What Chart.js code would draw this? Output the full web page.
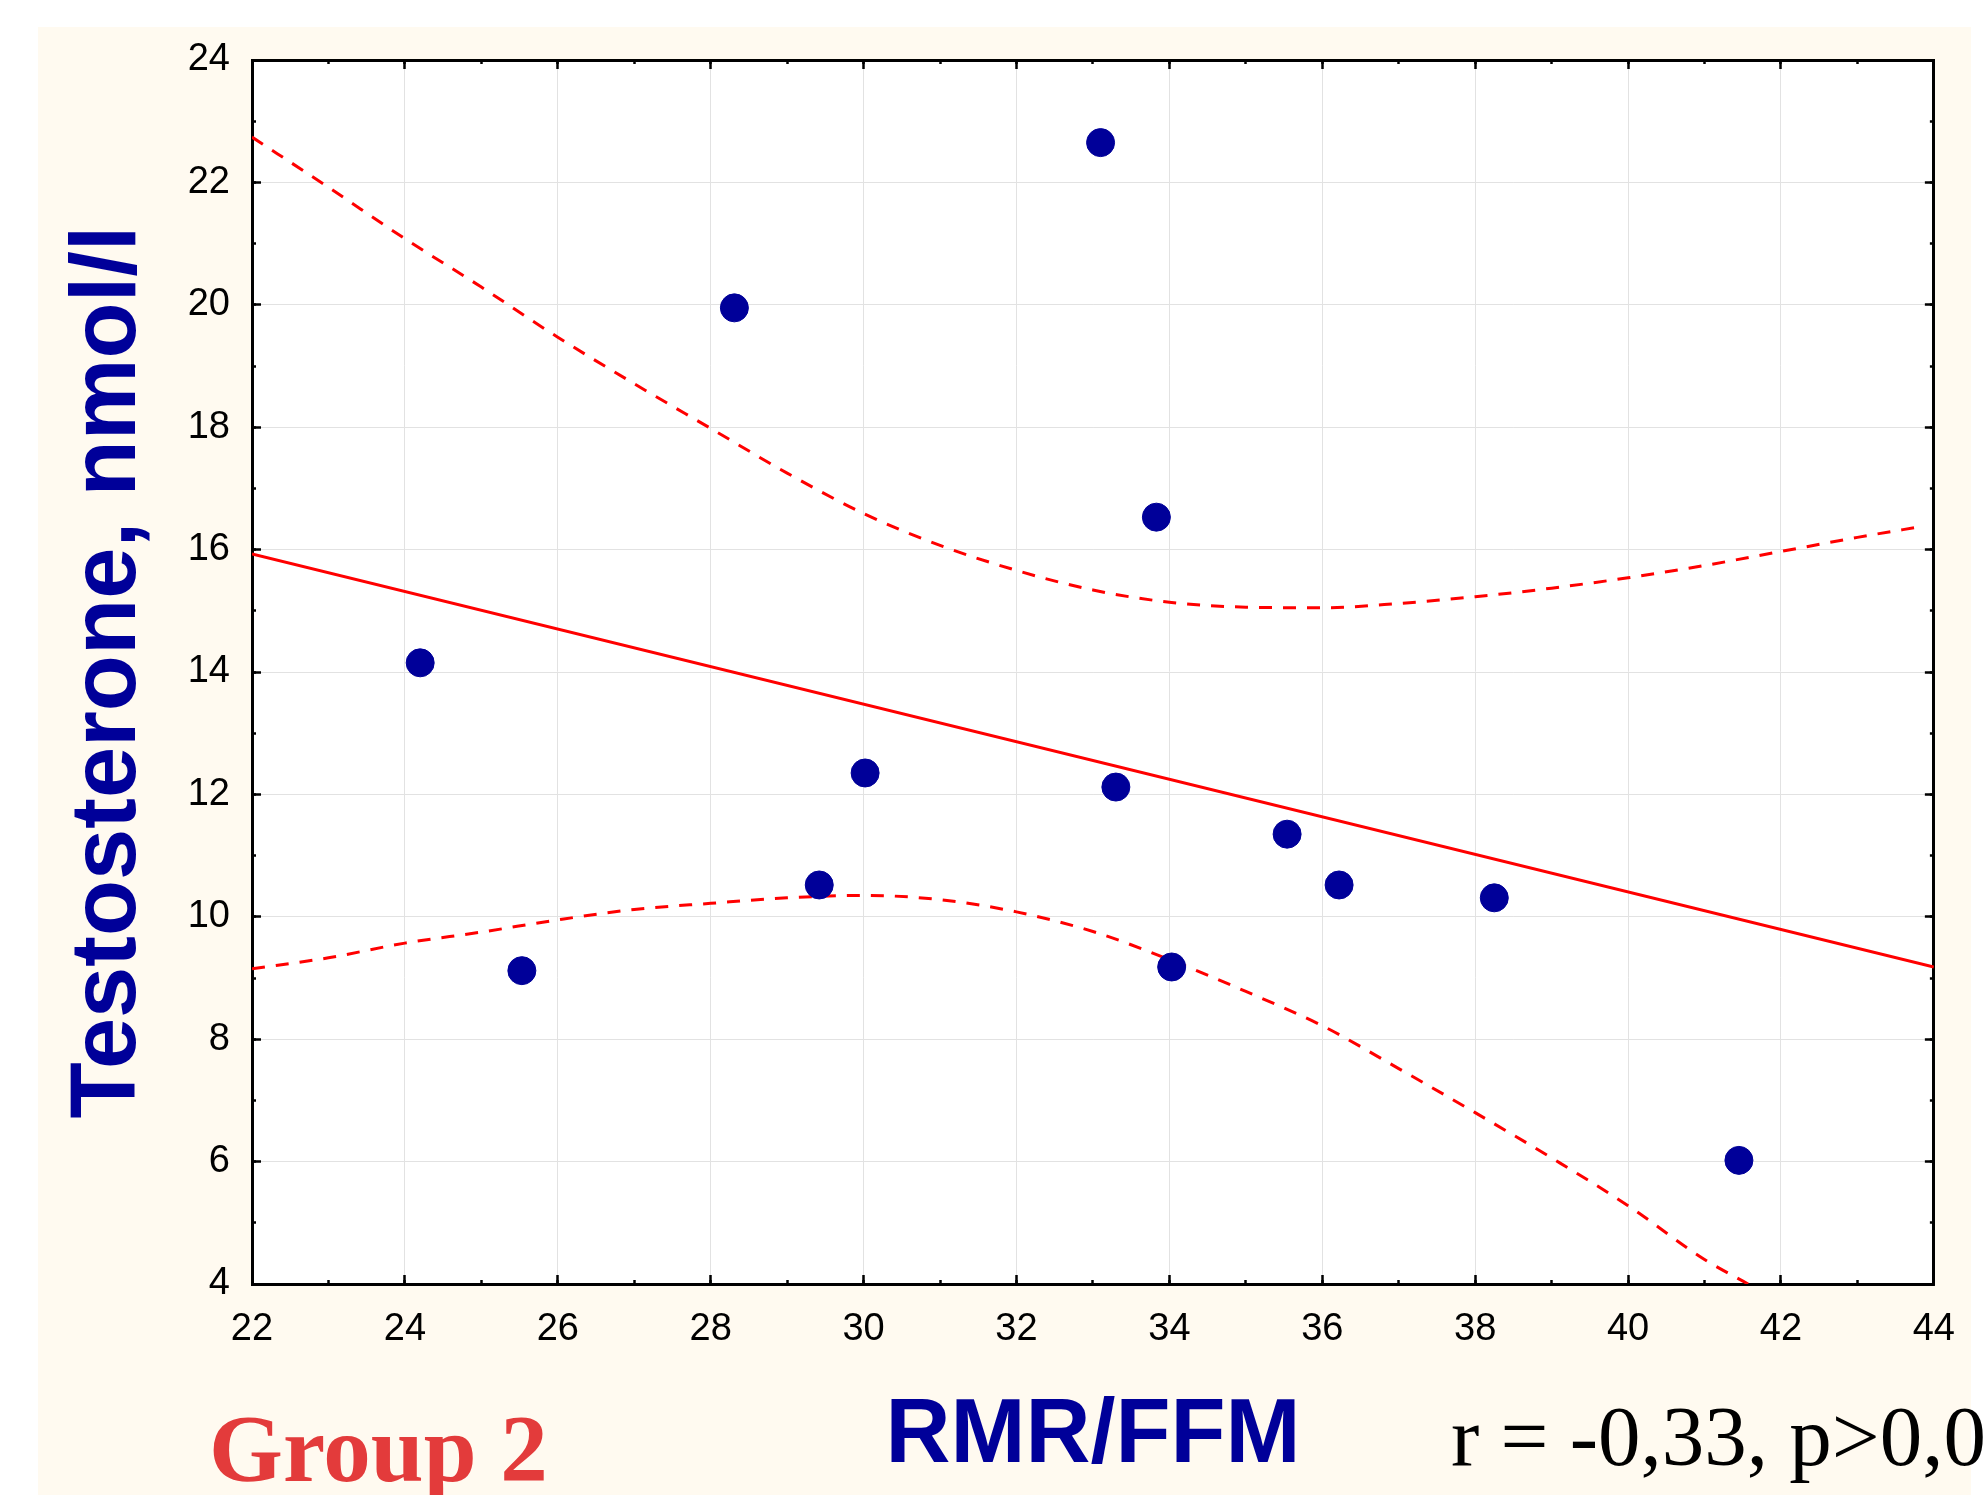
<!DOCTYPE html>
<html>
<head>
<meta charset="utf-8">
<title>Testosterone vs RMR/FFM – Group 2</title>
<script src="https://cdn.jsdelivr.net/npm/chart.js@4.4.1/dist/chart.umd.min.js"></script>
<style>
  html, body { margin: 0; padding: 0; background: #ffffff; overflow: hidden; }
  canvas { display: block; }
</style>
</head>
<body>
<canvas id="chart" width="1987" height="1495"></canvas>
<script>
// ---------------- data ----------------
const xTicks = [22, 24, 26, 28, 30, 32, 34, 36, 38, 40, 42, 44];
const yTicks = [4, 6, 8, 10, 12, 14, 16, 18, 20, 22, 24];

const pointX = [24.2, 25.53, 28.31, 29.42, 30.02, 33.1, 33.3, 33.83, 34.03, 35.54, 36.22, 38.25, 41.45];
const pointY = [14.15, 9.12, 19.95, 10.52, 12.35, 22.65, 12.12, 16.53, 9.18, 11.35, 10.52, 10.31, 6.02];

const fitX = [22, 44];
const fitY = [15.93, 9.18];

const upperX = [22, 23, 24, 25, 26, 27, 28, 29, 30, 31, 32, 33, 34, 35, 36, 37, 38, 39, 40, 41, 42, 43, 43.85];
const upperY = [22.74, 21.92, 21.08, 20.29, 19.47, 18.71, 17.98, 17.25, 16.59, 16.07, 15.66, 15.34, 15.14, 15.06, 15.05, 15.12, 15.23, 15.37, 15.54, 15.74, 15.97, 16.2, 16.38];

const lowerX = [22, 23, 24, 25, 26, 27, 28, 29, 30, 31, 32, 33, 34, 35, 36, 37, 38, 39, 40, 41, 41.57];
const lowerY = [9.15, 9.33, 9.57, 9.75, 9.95, 10.12, 10.22, 10.31, 10.35, 10.28, 10.08, 9.76, 9.3, 8.78, 8.22, 7.52, 6.8, 6.06, 5.28, 4.4, 4.0];

const xAxisTitle = 'RMR/FFM';
const yAxisTitle = 'Testosterone, nmol/l';
const groupLabel = 'Group 2';
const statsLabel = 'r = -0,33, p>0,05';

// ---------------- helpers ----------------
const toXY = (xs, ys) => xs.map((x, i) => ({ x: x, y: ys[i] }));
const SANS = '"Liberation Sans", Arial, sans-serif';
const SERIF = '"Liberation Serif", "Times New Roman", serif';
const NAVY = '#000099';
const CLEAR = 'rgba(0,0,0,0)';

function majorTicks(list) {
  return function (scale) { scale.ticks = list.map(v => ({ value: v })); };
}

function markScale(axis, position, weight, fitSize, list, tickLen, showBorder) {
  const s = {
    type: 'linear',
    axis: axis,
    position: position,
    weight: weight,
    min: axis === 'x' ? 22 : 4,
    max: axis === 'x' ? 44 : 24,
    ticks: { display: false },
    grid: { color: CLEAR, drawTicks: true, tickLength: tickLen, tickColor: '#000000', tickWidth: 2.5 },
    border: { display: showBorder, color: '#000000', width: 3 },
    afterFit: function (scale) {
      if (axis === 'x') { scale.height = fitSize; } else { scale.width = fitSize; }
    }
  };
  if (list) {
    s.afterBuildTicks = majorTicks(list);
  } else {
    s.ticks.stepSize = 1;
  }
  return s;
}

// background: white page, cream panel, white plot area
const backgroundPlugin = {
  id: 'panelBackground',
  beforeDraw(chart) {
    const { ctx, chartArea: a } = chart;
    ctx.save();
    ctx.fillStyle = '#ffffff';
    ctx.fillRect(0, 0, chart.width, chart.height);
    ctx.fillStyle = '#fffaf0';
    ctx.fillRect(38, 27, 1971 - 38, chart.height - 27);
    ctx.fillStyle = '#ffffff';
    ctx.fillRect(a.left, a.top, a.right - a.left, a.bottom - a.top);
    ctx.restore();
  }
};

// annotations below the chart
const notesPlugin = {
  id: 'notes',
  afterDraw(chart) {
    const ctx = chart.ctx;
    ctx.save();
    ctx.textBaseline = 'alphabetic';
    ctx.textAlign = 'left';
    ctx.fillStyle = '#e33b3b';
    ctx.font = 'bold 95px ' + SERIF;
    ctx.fillText(groupLabel, 209, 1481);
    ctx.fillStyle = '#000000';
    ctx.font = '85px ' + SERIF;
    ctx.fillText(statsLabel, 1451, 1465);
    ctx.restore();
  }
};

const ctx = document.getElementById('chart').getContext('2d');
new Chart(ctx, {
  type: 'scatter',
  data: {
    datasets: [
      {
        label: 'Observations',
        data: toXY(pointX, pointY),
        showLine: false,
        pointRadius: 14,
        pointHoverRadius: 14,
        pointBackgroundColor: NAVY,
        pointBorderColor: NAVY,
        pointBorderWidth: 1
      },
      {
        label: 'Regression',
        data: toXY(fitX, fitY),
        showLine: true,
        pointRadius: 0,
        borderColor: '#ff0000',
        borderWidth: 3,
        fill: false
      },
      {
        label: 'Upper 95%',
        data: toXY(upperX, upperY),
        showLine: true,
        pointRadius: 0,
        borderColor: '#ff0000',
        borderWidth: 3,
        borderDash: [13, 11],
        cubicInterpolationMode: 'monotone',
        fill: false
      },
      {
        label: 'Lower 95%',
        data: toXY(lowerX, lowerY),
        showLine: true,
        pointRadius: 0,
        borderColor: '#ff0000',
        borderWidth: 3,
        borderDash: [13, 11],
        cubicInterpolationMode: 'monotone',
        fill: false
      }
    ]
  },
  options: {
    responsive: false,
    animation: false,
    devicePixelRatio: 1,
    layout: { padding: { left: 0, top: 60, right: 52, bottom: 0 } },
    plugins: {
      legend: { display: false },
      tooltip: { enabled: false },
      title: { display: false }
    },
    scales: {
      x: {
        type: 'linear',
        position: 'bottom',
        weight: 1,
        min: 22,
        max: 44,
        afterBuildTicks: majorTicks(xTicks),
        afterFit: function (scale) { scale.height = 211; },
        grid: { color: '#e2e2e2', lineWidth: 1, drawTicks: true, tickLength: -9, tickColor: '#000000', tickWidth: 2.5 },
        border: { display: true, color: '#000000', width: 3 },
        ticks: { padding: 32, color: '#000000', autoSkip: false, maxRotation: 0, font: { family: SANS, size: 38 } },
        title: { display: true, text: xAxisTitle, color: NAVY, font: { family: SANS, size: 90, weight: 'bold' }, padding: { top: 0, bottom: 4 } }
      },
      y: {
        type: 'linear',
        position: 'left',
        weight: 1,
        min: 4,
        max: 24,
        afterBuildTicks: majorTicks(yTicks),
        afterFit: function (scale) { scale.width = 252; },
        grid: { color: '#e2e2e2', lineWidth: 1, drawTicks: true, tickLength: -9, tickColor: '#000000', tickWidth: 2.5 },
        border: { display: true, color: '#000000', width: 3 },
        ticks: { padding: 31, color: '#000000', autoSkip: false, font: { family: SANS, size: 38 } },
        title: { display: true, text: yAxisTitle, color: NAVY, font: { family: SANS, size: 92, weight: 'bold' }, padding: { top: 54, bottom: 0 } }
      },
      xMinor: markScale('x', 'bottom', 0, 0, null, -4, false),
      xTop: markScale('x', 'top', 1, 0, xTicks, -9, true),
      xTopMinor: markScale('x', 'top', 0, 0, null, -4, false),
      yMinor: markScale('y', 'left', 0, 0, null, -4, false),
      yRight: markScale('y', 'right', 1, 0, yTicks, -9, true),
      yRightMinor: markScale('y', 'right', 0, 0, null, -4, false)
    }
  },
  plugins: [backgroundPlugin, notesPlugin]
});
</script>
</body>
</html>
